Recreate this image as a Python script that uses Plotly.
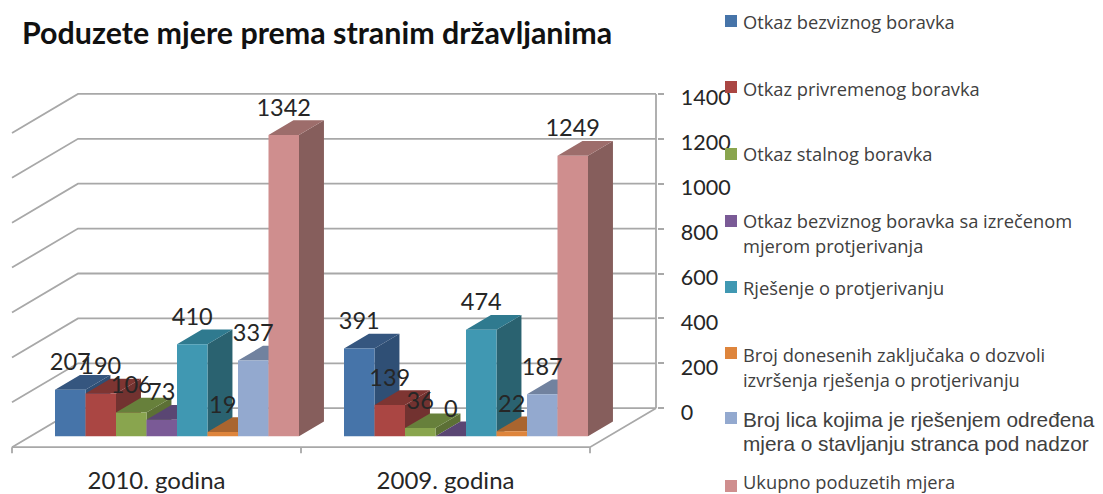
import plotly.graph_objects as go

# ---------- data ----------
categories = ["2010. godina", "2009. godina"]
series_names = [
    ["Otkaz bezviznog boravka"],
    ["Otkaz privremenog boravka"],
    ["Otkaz stalnog boravka"],
    ["Otkaz bezviznog boravka sa izrečenom", "mjerom protjerivanja"],
    ["Rješenje o protjerivanju"],
    ["Broj donesenih zaključaka o dozvoli", "izvršenja rješenja o protjerivanju"],
    ["Broj lica kojima je rješenjem određena", "mjera o stavljanju stranca pod nadzor"],
    ["Ukupno poduzetih mjera"],
]
otkaz_bezviznog = [207, 391]
otkaz_privremenog = [190, 139]
otkaz_stalnog = [106, 36]
otkaz_protjerivanje = [73, 0]
rjesenje_protjerivanje = [410, 474]
zakljucci = [19, 22]
nadzor = [337, 187]
ukupno = [1342, 1249]
series_values = [otkaz_bezviznog, otkaz_privremenog, otkaz_stalnog, otkaz_protjerivanje,
                 rjesenje_protjerivanje, zakljucci, nadzor, ukupno]
y_ticks = [0, 200, 400, 600, 800, 1000, 1200, 1400]
title_text = "Poduzete mjere prema stranim državljanima"

# ---------- styles ----------
front = ["#4674A9", "#AA4643", "#89A54E", "#7A5A96", "#4098B2", "#DE853C", "#93A9CF", "#CF8E8E"]
side = ["#2F4F75", "#723230", "#5C7035", "#4E3D63", "#2A6270", "#A0602C", "#6C7C98", "#865E5C"]
top = ["#35567F", "#7E3532", "#67803B", "#5A4673", "#2F7A8F", "#A9652F", "#71829F", "#9D6D6B"]
GRID = "#A8A8A8"
INK = "#262626"
W, H = 1103, 494

# ---------- oblique projection in axis units ----------
PX_PER_CAT = 289.0
PX_PER_VAL = 0.2245
LEFT_PX, BACK_ZERO_PX = 12.0, 408.2
DX = 66.0 / PX_PER_CAT      # depth shift, category units
DY = 39.0 / PX_PER_VAL      # depth shift, value units
D0, D1 = 0.282, 0.66        # front and back of the bars in the depth
BAR_W = 30.5 / PX_PER_CAT
BAR_START = 0.0844


def proj(x, v, d):
    return x + d * DX, v - (1 - d) * DY


def poly(points):
    xs, ys = zip(*[proj(*p) for p in points])
    return list(xs) + [xs[0], None], list(ys) + [ys[0], None]


def face_trace(xs, ys, color, name):
    return go.Scatter(x=xs, y=ys, mode="lines", fill="toself", fillcolor=color,
                      line=dict(width=0, color=color), hoverinfo="skip",
                      showlegend=False, name=name)


fig = go.Figure()

# ---------- walls / floor ----------
gx, gy = [], []
for v in y_ticks:
    for p in (proj(0, v, 0), proj(0, v, 1), proj(2, v, 1), (None, None)):
        gx.append(p[0])
        gy.append(p[1])
for p in (proj(0, 0, 0), proj(2, 0, 0), proj(2, 0, 1), (None, None),
          proj(2, y_ticks[0], 1), proj(2, y_ticks[-1], 1), (None, None)):
    gx.append(p[0])
    gy.append(p[1])
for c in range(len(categories) + 1):
    a = proj(c, 0, 0)
    for p in (a, (a[0], a[1] - 6 / PX_PER_VAL), (None, None)):
        gx.append(p[0])
        gy.append(p[1])
fig.add_trace(go.Scatter(x=gx, y=gy, mode="lines", line=dict(color=GRID, width=1.8),
                         hoverinfo="skip", showlegend=False))

# ---------- bars, painted left to right ----------
lx, ly, lt = [], [], []
for s, values in enumerate(series_values):
    fx, fy, sx, sy, tx, ty = [], [], [], [], [], []
    name = " ".join(series_names[s])
    for c, v in enumerate(values):
        x0 = c + BAR_START + s * BAR_W
        x1 = x0 + BAR_W
        a, b = poly([(x1, 0, D0), (x1, 0, D1), (x1, v, D1), (x1, v, D0)])
        sx += a; sy += b
        a, b = poly([(x0, v, D0), (x1, v, D0), (x1, v, D1), (x0, v, D1)])
        tx += a; ty += b
        a, b = poly([(x0, 0, D0), (x1, 0, D0), (x1, v, D0), (x0, v, D0)])
        fx += a; fy += b
        px_, py_ = proj((x0 + x1) / 2, v, D1)
        lx.append(px_ - (D1 - D0) * DX)
        ly.append(py_ + 10.5 / PX_PER_VAL)
        lt.append(str(v))
    fig.add_trace(face_trace(sx, sy, side[s], name + " (bok)"))
    fig.add_trace(face_trace(tx, ty, top[s], name + " (vrh)"))
    fig.add_trace(face_trace(fx, fy, front[s], name))

fig.add_trace(go.Scatter(x=lx, y=ly, text=lt, mode="text", textposition="middle center",
                         textfont=dict(family="Lato", size=23.5, color=INK),
                         hoverinfo="skip", showlegend=False))

# ---------- legend ----------
legend_y = [(22, ), (88, ), (154, ), (220, 246), (287, ), (354, 379), (419, 443), (481.5, )]
swatch_y = [21, 87, 154, 221, 287, 353, 418, 486]
shapes, annotations = [], []
for s, lines in enumerate(series_names):
    shapes.append(dict(type="rect", xref="paper", yref="paper", layer="above",
                       x0=725 / W, x1=737 / W,
                       y0=1 - (swatch_y[s] + 6) / H, y1=1 - (swatch_y[s] - 6) / H,
                       fillcolor=front[s], line=dict(width=0)))
    is_arial = s == 6
    for text, yy in zip(lines, legend_y[s]):
        annotations.append(dict(
            text=text, xref="paper", yref="paper", x=741 / W, y=1 - yy / H,
            xanchor="left", yanchor="middle", showarrow=False, align="left",
            font=dict(family="Liberation Sans" if is_arial else "Open Sans",
                      size=20.8 if is_arial else 18.3, color="#404040"),
        ))

fig.update_layout(
    width=W, height=H, autosize=False,
    margin=dict(l=0, r=0, t=0, b=0),
    paper_bgcolor="white", plot_bgcolor="white",
    showlegend=False,
    title=dict(text="<b>" + title_text + "</b>", x=22 / W, xanchor="left", xref="paper",
               y=1 - 33 / H, yanchor="middle", yref="paper",
               font=dict(family="Lato", size=30.4, color="#111111")),
    shapes=shapes, annotations=annotations,
    xaxis=dict(range=[(0 - LEFT_PX) / PX_PER_CAT, (W - LEFT_PX) / PX_PER_CAT],
               domain=[0, 1], anchor="free", position=1 - 447.2 / H,
               tickmode="array", tickvals=[c + 0.5 for c in range(len(categories))],
               ticktext=categories, ticks="", showline=False, showgrid=False, zeroline=False,
               ticklabelstandoff=17,
               tickfont=dict(family="Lato", size=24, color=INK)),
    yaxis=dict(range=[-(H - BACK_ZERO_PX) / PX_PER_VAL, BACK_ZERO_PX / PX_PER_VAL],
               domain=[0, 1], anchor="free", position=656.5 / W, side="right",
               tickmode="array", tickvals=y_ticks, ticks="outside", ticklen=6, tickwidth=1.8,
               tickcolor=GRID, showline=False, showgrid=False, zeroline=False,
               ticklabelstandoff=13, ticklabelshift=4,
               tickfont=dict(family="Lato", size=21.5, color=INK)),
)

fig.write_html("out.html", config=dict(displayModeBar=False),
               post_script="document.body.style.margin='0';document.body.style.overflow='hidden';")
